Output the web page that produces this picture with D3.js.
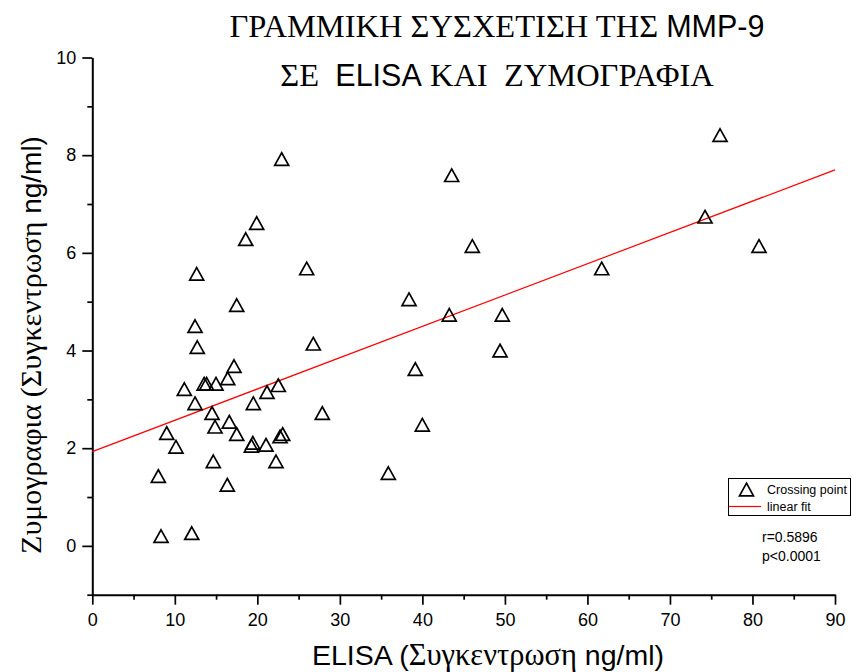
<!DOCTYPE html>
<html>
<head>
<meta charset="utf-8">
<script src="https://cdn.jsdelivr.net/npm/d3@7"></script>
<style>
  body { margin: 0; background: #fff; }
</style>
</head>
<body>
<div id="root"></div>
<script>
// ELISA vs zymography values (ng/ml)
const elisa = [
  76.07, 22.95, 43.55, 19.92, 18.59, 46.05, 80.79, 74.25, 61.73, 12.65,
  25.98, 38.38, 17.50, 12.45, 43.26, 49.68, 26.78, 12.72, 49.41, 17.17,
  39.14, 16.41, 13.85, 13.55, 14.99, 22.54, 11.15, 21.17, 12.45, 19.51,
  27.87, 14.51, 16.60, 14.87, 39.99, 17.50, 9.02, 23.07, 22.75, 10.14,
  19.45, 19.28, 21.05, 14.66, 22.26, 8.00, 35.87, 16.36, 8.33, 12.05
];
const zymo = [
  8.41, 7.92, 7.59, 6.61, 6.28, 6.14, 6.14, 6.74, 5.68, 5.57,
  5.68, 5.05, 4.93, 4.50, 4.73, 4.73, 4.14, 4.07, 4.00, 3.68,
  3.62, 3.43, 3.32, 3.32, 3.32, 3.29, 3.21, 3.15, 2.92, 2.92,
  2.72, 2.72, 2.54, 2.44, 2.48, 2.29, 2.31, 2.29, 2.24, 2.03,
  2.11, 2.05, 2.07, 1.73, 1.73, 1.43, 1.49, 1.25, 0.20, 0.26
];
// linear fit end points
const fitX = [0, 90];
const fitY = [1.93, 7.70];

const xMajor = d3.range(0, 91, 10);
const xMinor = d3.range(5, 90, 10);
const yMajor = d3.range(0, 11, 2);
const yMinor = [-1, 1, 3, 5, 7, 9];

const width = 852;
const height = 672;
const SERIF = "'Liberation Serif', 'Times New Roman', 'DejaVu Serif', serif";
const SANS = "'Liberation Sans', Arial, sans-serif";

const svg = d3.select("#root")
  .append("svg")
  .attr("width", width)
  .attr("height", height);

const x = d3.scaleLinear().domain([0, 90]).range([92.3, 835]);
const y = d3.scaleLinear().domain([-1, 10]).range([594.7, 57.5]);

// Axes
const xAxis = svg.append("g")
  .attr("transform", `translate(0,${y(-1)})`)
  .call(d3.axisBottom(x).tickValues(xMajor).tickSize(10).tickSizeOuter(0).tickPadding(4));
svg.append("g")
  .attr("transform", `translate(0,${y(-1)})`)
  .call(d3.axisBottom(x).tickValues(xMinor).tickSize(5).tickFormat(""))
  .select(".domain").remove();

const yAxis = svg.append("g")
  .attr("transform", `translate(${x(0)},0)`)
  .call(d3.axisLeft(y).tickValues(yMajor).tickSize(10).tickSizeOuter(0).tickPadding(6));
svg.append("g")
  .attr("transform", `translate(${x(0)},0)`)
  .call(d3.axisLeft(y).tickValues(yMinor).tickSize(5).tickFormat(""))
  .select(".domain").remove();

svg.selectAll(".domain").attr("stroke", "#000").attr("stroke-width", 2);
svg.selectAll(".tick line").attr("stroke", "#000").attr("stroke-width", 1.7);
svg.selectAll(".tick text")
  .style("font-family", SANS)
  .style("font-size", "18px")
  .attr("fill", "#000");
xAxis.selectAll(".tick text").attr("dy", "0.95em");

// Fit line
svg.append("line")
  .attr("x1", x(fitX[0]))
  .attr("y1", y(fitY[0]))
  .attr("x2", x(fitX[1]))
  .attr("y2", y(fitY[1]))
  .attr("stroke", "#ff0000")
  .attr("stroke-width", 1.2);

// Triangle markers
function triangle(cx, cy) {
  const w = 7, h = 6.3;
  return `M${cx},${cy - h}L${cx + w},${cy + h}L${cx - w},${cy + h}Z`;
}

const points = elisa.map((v, i) => ({ x: v, y: zymo[i] }));
svg.append("g")
  .selectAll("path")
  .data(points)
  .enter()
  .append("path")
  .attr("d", (d) => triangle(x(d.x), y(d.y)))
  .attr("fill", "none")
  .attr("stroke", "#000")
  .attr("stroke-width", 1.7);

// mixed-font text helper
function addParts(textSel, parts) {
  parts.forEach(([str, fam, size]) => {
    textSel.append("tspan")
      .style("font-family", fam)
      .style("font-size", size + "px")
      .text(str);
  });
}

// Title
const title = svg.append("text")
  .attr("text-anchor", "middle")
  .attr("x", 497)
  .attr("y", 37)
  .attr("fill", "#000")
  .style("white-space", "pre");
addParts(title, [["ΓΡΑΜΜΙΚΗ ΣΥΣΧΕΤΙΣΗ ΤΗΣ ", SERIF, 32.5], ["MMP-9", SANS, 30.5]]);

const title2 = svg.append("text")
  .attr("text-anchor", "middle")
  .attr("x", 497)
  .attr("y", 86)
  .attr("fill", "#000")
  .style("white-space", "pre");
addParts(title2, [["ΣΕ  ", SERIF, 32.5], ["ELISA", SANS, 30.5], [" ΚΑΙ  ΖΥΜΟΓΡΑΦΙΑ", SERIF, 32.5]]);

// Axis titles
const xLabel = svg.append("text")
  .attr("text-anchor", "middle")
  .attr("x", 488)
  .attr("y", 665)
  .attr("fill", "#000")
  .style("white-space", "pre");
addParts(xLabel, [["ELISA (", SANS, 28.5], ["Συγκεντρωση", SERIF, 30.5], [" ng/ml)", SANS, 28.5]]);

const yLabel = svg.append("text")
  .attr("text-anchor", "middle")
  .attr("transform", "translate(41,345) rotate(-90)")
  .attr("fill", "#000")
  .style("white-space", "pre");
addParts(yLabel, [["Ζυμογραφια (Συγκεντρωση", SERIF, 30], [" ng/ml)", SANS, 28]]);

// Legend
const legend = svg.append("g");
legend.append("rect")
  .attr("x", 728.5)
  .attr("y", 478.5)
  .attr("width", 122)
  .attr("height", 37)
  .attr("fill", "#fff")
  .attr("stroke", "#000")
  .attr("stroke-width", 1);
legend.append("path")
  .attr("d", triangle(746.5, 489.5))
  .attr("fill", "none")
  .attr("stroke", "#000")
  .attr("stroke-width", 1.7);
legend.append("text")
  .attr("x", 767)
  .attr("y", 493.5)
  .style("font-family", SANS)
  .style("font-size", "12.5px")
  .text("Crossing point");
legend.append("line")
  .attr("x1", 729)
  .attr("x2", 761)
  .attr("y1", 506.5)
  .attr("y2", 506.5)
  .attr("stroke", "#ff0000")
  .attr("stroke-width", 1.2);
legend.append("text")
  .attr("x", 767)
  .attr("y", 511)
  .style("font-family", SANS)
  .style("font-size", "12.5px")
  .text("linear fit");

svg.append("text")
  .attr("x", 762)
  .attr("y", 542)
  .style("font-family", SANS)
  .style("font-size", "14px")
  .text("r=0.5896");
svg.append("text")
  .attr("x", 762)
  .attr("y", 561)
  .style("font-family", SANS)
  .style("font-size", "14px")
  .text("p<0.0001");
</script>
</body>
</html>
